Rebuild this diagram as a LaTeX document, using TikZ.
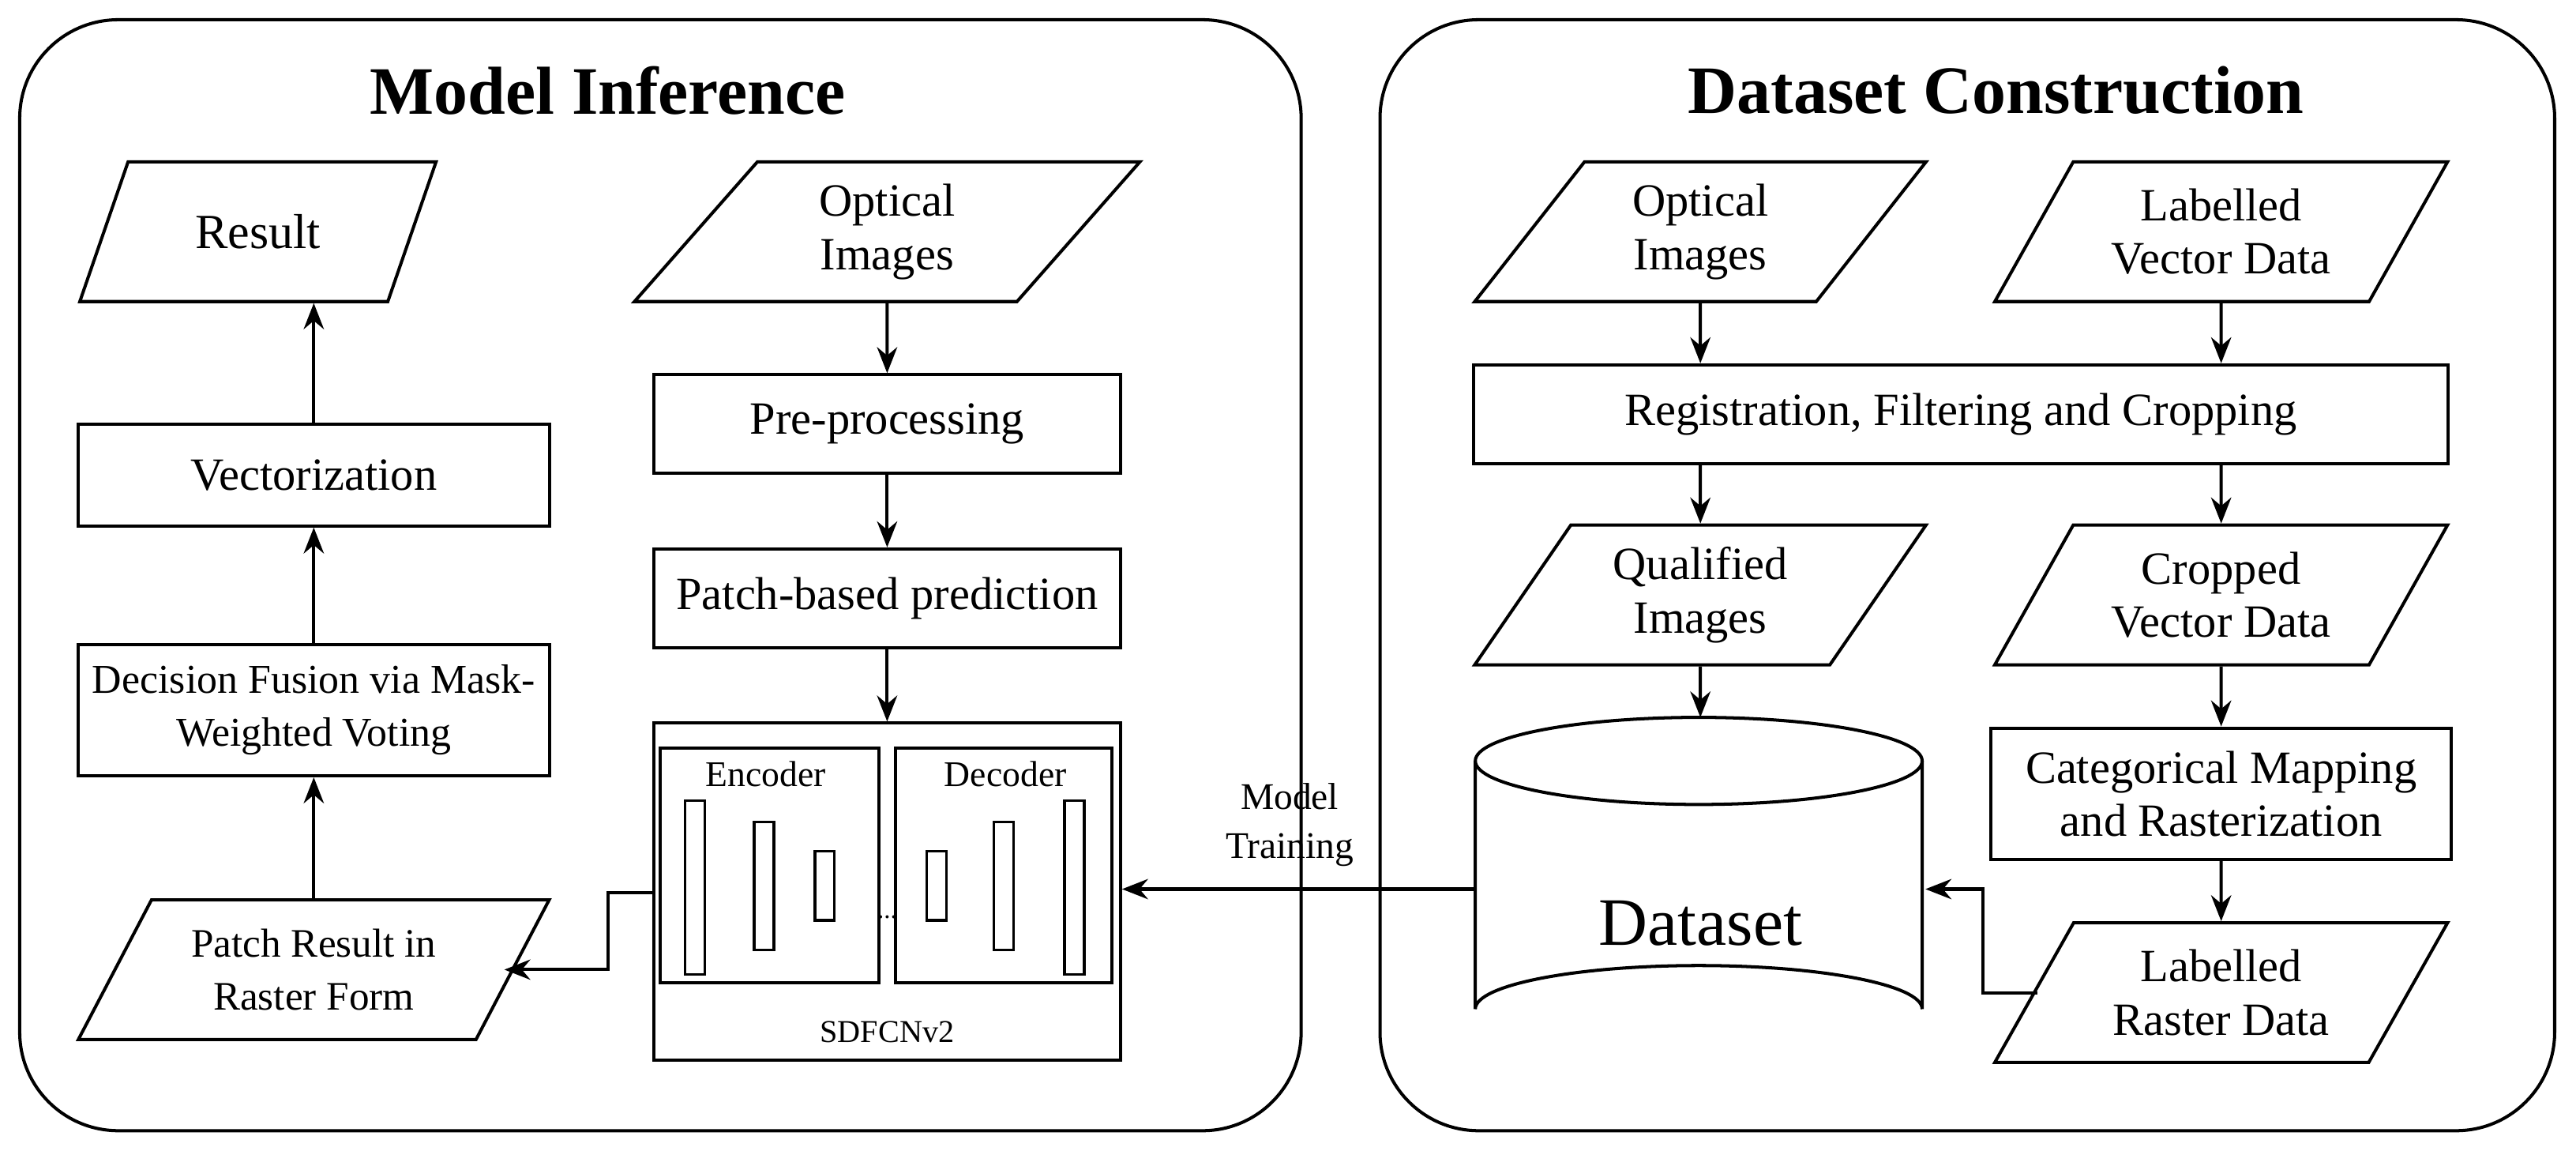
\documentclass[tikz,border=0pt]{standalone}
\usepackage{fontspec}
\setmainfont{Liberation Serif}
\usetikzlibrary{shapes.geometric,arrows.meta}
\begin{document}
\begin{tikzpicture}[x=0.02cm,y=-0.02cm,
  every node/.style={font=\fontsize{16}{18.5}\selectfont},
  box/.style={draw,line width=1.1pt,rectangle,align=center,inner sep=0pt},
  para/.style={draw,line width=1.1pt,trapezium,trapezium left angle=56,trapezium right angle=124,trapezium stretches=true,align=center,inner sep=0pt,minimum height=85*0.02cm},
  arr/.style={line width=1.1pt,-{Stealth[length=9pt,width=7pt]}},
  bar/.style={draw,line width=0.9pt},
  small/.style={font=\fontsize{12.5}{14}\selectfont},
  title/.style={font=\fontsize{23.5}{27}\selectfont\bfseries}]
\useasboundingbox (0,0) rectangle (1568,700);
\draw[line width=1.1pt,rounded corners=60*0.02cm] (12,12) rectangle (792,688);
\draw[line width=1.1pt,rounded corners=60*0.02cm] (840,12) rectangle (1555,688);
\node[title] (t1) at (370,55) {Model Inference};
\node[title] (t2) at (1215,55) {Dataset Construction};
% left
\node[para,minimum width=218*0.02cm,font=\fontsize{17}{19}\selectfont] (res) at (157,141) {Result};
\node[para,minimum width=308*0.02cm] (oi1) at (540,141) {Optical\\Images};
\node[box,minimum width=287*0.02cm,minimum height=62*0.02cm] (vec) at (191,289) {Vectorization};
\node[box,minimum width=284*0.02cm,minimum height=60*0.02cm] (pre) at (540,258) {Pre-processing};
\node[box,minimum width=284*0.02cm,minimum height=60*0.02cm] (pbp) at (540,364) {Patch-based prediction};
\node[box,minimum width=287*0.02cm,minimum height=80*0.02cm,font=\fontsize{14.2}{18.5}\selectfont] (dec) at (191,432) {Decision Fusion via Mask-\\Weighted Voting};
\node[para,minimum width=287*0.02cm,font=\fontsize{14}{18.5}\selectfont] (pr) at (191,590) {Patch Result in\\Raster Form};
\node[box,minimum width=284*0.02cm,minimum height=205*0.02cm] (sd) at (540,542.5) {};
\node[font=\fontsize{11}{13}\selectfont] (sdl) at (540,628) {SDFCNv2};
\node[box,minimum width=133*0.02cm,minimum height=143*0.02cm] (enc) at (468.5,526.5) {};
\node[box,minimum width=132*0.02cm,minimum height=143*0.02cm] (decb) at (611,526.5) {};
\node[small] (encl) at (466,471) {Encoder};
\node[small] (decl) at (612,471) {Decoder};
\draw[bar] (417,487) rectangle (429,593);
\draw[bar] (459,500) rectangle (471,578);
\draw[bar] (496,518) rectangle (508,560);
\draw[bar] (564,518) rectangle (576,560);
\draw[bar] (605,500) rectangle (617,578);
\draw[bar] (648,487) rectangle (660,593);
\node[font=\fontsize{9}{10}\selectfont] (dots) at (540,558) {...};
\draw[arr] (oi1) -- (pre);
\draw[arr] (pre) -- (pbp);
\draw[arr] (pbp) -- (sd);
\draw[arr] (pr.north -| dec) -- (dec);
\draw[arr] (dec) -- (vec);
\draw[arr] (vec) -- (vec |- res.south);
\coordinate (c1) at (370,543);
\coordinate (c2) at (307,590);
\draw[arr] (sd.west |- c1) -- (c1) -- (c1 |- c2) -- (c2);
% right
\node[para,minimum width=275*0.02cm] (oi2) at (1035,141) {Optical\\Images};
\node[para,minimum width=276*0.02cm] (lv) at (1352,141) {Labelled\\Vector Data};
\node[box,minimum width=593*0.02cm,minimum height=60*0.02cm] (reg) at (1193.5,252) {Registration, Filtering and Cropping};
\node[para,minimum width=275*0.02cm] (qi) at (1035,362) {Qualified\\Images};
\node[para,minimum width=276*0.02cm] (cv) at (1352,362) {Cropped\\Vector Data};
\node[box,minimum width=280*0.02cm,minimum height=80*0.02cm] (cat) at (1352,483) {Categorical Mapping\\and Rasterization};
\node[para,minimum width=276*0.02cm] (lr) at (1352,604) {Labelled\\Raster Data};
% cylinder
\draw[line width=1.1pt,fill=white] (898,463) -- (898,614) arc[start angle=180,end angle=360,x radius=136,y radius=26.5] -- (1170,463);
\draw[line width=1.1pt] (1034,463) ellipse[x radius=136,y radius=26.5];
\node[minimum width=272*0.02cm,minimum height=190*0.02cm] (ds) at (1034,545) {};
\node[font=\fontsize{23.5}{27}\selectfont] (dsl) at (1035,562) {Dataset};
\draw[arr] (oi2) -- (oi2 |- reg.north);
\draw[arr] (lv) -- (lv |- reg.north);
\draw[arr] (reg.south -| qi) -- (qi);
\draw[arr] (reg.south -| cv) -- (cv);
\draw[arr] (qi) -- (1035,436.5);
\draw[arr] (cv) -- (cat);
\draw[arr] (cat) -- (lr);
\coordinate (c3) at (1207,604);
\coordinate (c4) at (1172,541);
\draw[arr] (1240,604) -- (c3) -- (c3 |- c4) -- (c4);
\draw[arr] (898,541) -- (sd.east |- 0,541);
\node[align=center,font=\fontsize{13}{17}\selectfont] (mt) at (785,502) {Model\\Training};
\end{tikzpicture}
\end{document}
